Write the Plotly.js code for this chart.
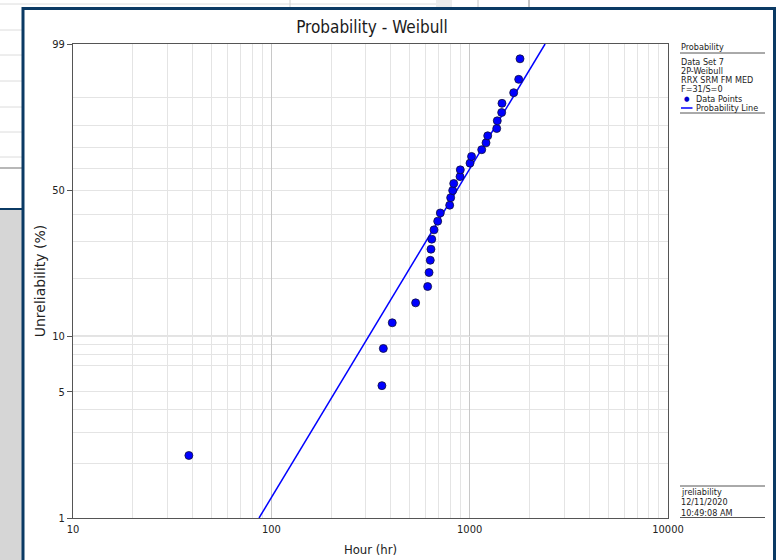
<!DOCTYPE html>
<html>
<head>
<meta charset="utf-8">
<script src="https://cdn.plot.ly/plotly-3.0.1.min.js"></script>
<style>
html,body{margin:0;padding:0;background:#ffffff;}
#chart{width:778px;height:560px;}
</style>
</head>
<body>
<div id="chart"></div>
<script>
// ---- data ----
const hours = [38.4, 361, 367, 407, 534, 614, 624, 633, 638, 644, 661, 690, 711, 793, 802, 821, 831, 894, 897, 1004, 1022, 1150, 1209, 1233, 1369, 1378, 1450, 1455, 1667, 1767, 1794];
const unreliability = [2.23, 5.41, 8.60, 11.78, 14.97, 18.15, 21.34, 24.52, 27.71, 30.89, 34.08, 37.26, 40.45, 43.63, 46.82, 50.00, 53.18, 56.37, 59.55, 62.74, 65.92, 69.11, 72.29, 75.48, 78.66, 81.85, 85.03, 88.22, 91.40, 94.59, 97.77];
const lineHours = [86.7, 2400];
const lineUnrel = [1, 99];
const yTickVals = [1, 5, 10, 50, 99];
const yTickText = ['1', '5', '10', '50', '99'];
const yMinorVals = [2, 3, 4, 7, 8, 9, 20, 30, 40, 60, 70, 80, 90];
const xTickVals = [10, 100, 1000, 10000];
const xTickText = ['10', '100', '1000', '10000'];
const xMinorVals = [20,30,40,50,60,70,80,90,200,300,400,500,600,700,800,900,2000,3000,4000,5000,6000,7000,8000,9000];
const legendLines = ['Data Set 7', '2P-Weibull', 'RRX SRM FM MED', 'F=31/S=0'];
const stampLines = ['jreliability', '12/11/2020', '10:49:08 AM'];

// Weibull probability scale
const W = p => Math.log(-Math.log(1 - p / 100));

// plot-area pixel box -> paper coordinates (for decorations only)
const PL = 73, PR = 668, PT = 44, PB = 518;
const px = x => (x - PL) / (PR - PL);
const py = y => (PB - y) / (PB - PT);

const FONT = '"DejaVu Sans Condensed", "Liberation Sans", sans-serif';
const BLUE = '#0000ff';

const traces = [
  {
    x: lineHours, y: lineUnrel.map(W), type: 'scatter', mode: 'lines',
    line: {color: BLUE, width: 1.5}, hoverinfo: 'skip', showlegend: false
  },
  {
    x: hours, y: unreliability.map(W), type: 'scatter', mode: 'markers',
    marker: {color: BLUE, size: 8, line: {color: '#10103a', width: 0.8}},
    showlegend: false
  }
];

const shapes = [];
const annotations = [];

// ---- background window decorations ----
const grayLine = (x0, y0, x1, y1, c, w) => shapes.push({type: 'line', xref: 'paper', yref: 'paper',
  x0: px(x0), y0: py(y0), x1: px(x1), y1: py(y1), line: {color: c, width: w}, layer: 'below'});
const rect = (x0, y0, x1, y1, fill) => shapes.push({type: 'rect', xref: 'paper', yref: 'paper',
  x0: px(x0), y0: py(y0), x1: px(x1), y1: py(y1), fillcolor: fill, line: {color: fill, width: 0}, layer: 'below'});

// left panel behind
[30, 55, 81, 107, 132, 157].forEach(y => grayLine(0, y, 22, y, '#dcdcdc', 1));
grayLine(0, 168, 22, 168, '#b8b8b8', 2);
rect(0, 210, 22, 560, '#d6d6d6');
grayLine(0, 209, 22, 209, '#0b3a64', 2);
// top strip behind
grayLine(0, 4, 436, 4, '#dcdcdc', 1);
rect(436, 0, 452, 7, '#ececec');
grayLine(290, 0, 290, 7, '#d0d0d0', 1);
grayLine(478, 0, 478, 7, '#c8c8c8', 1);
grayLine(529, 0, 529, 7, '#8a8a8a', 1);
// chart window frame
shapes.push({type: 'rect', xref: 'paper', yref: 'paper', x0: px(23), y0: py(8.5), x1: px(774.5), y1: py(575),
  fillcolor: 'rgba(0,0,0,0)', line: {color: '#0b3a64', width: 3}, layer: 'above'});

// dark gridline at 10 %
shapes.push({type: 'line', xref: 'paper', yref: 'y', x0: 0, x1: 1, y0: W(10), y1: W(10),
  line: {color: '#9a9a9a', width: 1}, layer: 'below'});

// ---- legend block (right side) ----
const LX = 680;
const SMALL = {family: FONT, size: 9, color: '#222'};
const note = (x, y, t, anchor, font) => annotations.push({xref: 'paper', yref: 'paper', x: px(x), y: py(y),
  xanchor: anchor || 'left', yanchor: 'middle', text: t, showarrow: false, borderpad: 0, font: font || SMALL});
note(LX, 47.5, 'Probability');
grayLine(LX, 53, 765, 53, '#555', 1);
legendLines.forEach((t, i) => note(LX, 61.5 + i * 9.3, t));
note(687, 98.7, '●', 'center', {family: FONT, size: 7, color: '#0000cc'});
note(695, 98.7, 'Data Points');
shapes.push({type: 'line', xref: 'paper', yref: 'paper', x0: px(681), x1: px(692.5), y0: py(108), y1: py(108),
  line: {color: BLUE, width: 1.5}});
note(695, 107.8, 'Probability Line');
grayLine(LX, 113, 765, 113, '#555', 1);

// ---- stamp block (bottom right) ----
grayLine(LX, 486, 765, 486, '#555', 1);
stampLines.forEach((t, i) => note(LX, 491.5 + i * 10.8, t));
grayLine(LX, 517.5, 765, 517.5, '#555', 1);

const layout = {
  width: 778, height: 560,
  margin: {l: PL, r: 778 - PR, t: PT, b: 560 - PB, pad: 0},
  paper_bgcolor: '#ffffff', plot_bgcolor: '#ffffff',
  font: {family: FONT, size: 11, color: '#222'},
  title: {text: 'Probability - Weibull', font: {family: FONT, size: 17, color: '#1a1a1a'},
    xref: 'paper', x: px(372), xanchor: 'center', yref: 'container', y: 1 - 27 / 560, yanchor: 'middle'},
  xaxis: {
    type: 'log', range: [1, 4], tickmode: 'array', tickvals: xTickVals, ticktext: xTickText,
    showgrid: true, gridcolor: '#c8c8c8', gridwidth: 1.5, zeroline: false,
    showline: true, linecolor: '#555', linewidth: 1, mirror: true, ticks: '',
    ticklabelstandoff: 1, tickfont: {family: FONT, size: 11, color: '#222'},
    minor: {tickmode: 'array', tickvals: xMinorVals, showgrid: true, gridcolor: '#e4e4e4', gridwidth: 1, ticks: ''},
    title: {text: 'Hour (hr)', font: {family: FONT, size: 13, color: '#222'}, standoff: 9}
  },
  yaxis: {
    range: [W(1), W(99)], tickmode: 'array', tickvals: yTickVals.map(W), ticktext: yTickText,
    showgrid: true, gridcolor: '#e4e4e4', gridwidth: 1, zeroline: false,
    showline: true, linecolor: '#555', linewidth: 1, mirror: true,
    ticks: 'outside', ticklen: 5, tickcolor: '#555', tickfont: {family: FONT, size: 11, color: '#222'},
    minor: {tickmode: 'array', tickvals: yMinorVals.map(W), showgrid: true, gridcolor: '#e4e4e4', gridwidth: 1, ticks: ''},
    title: {text: 'Unreliability (%)', font: {family: '"DejaVu Sans", "Liberation Sans", sans-serif', size: 14, color: '#222'}, standoff: 3}
  },
  shapes: shapes,
  annotations: annotations,
  showlegend: false
};

Plotly.newPlot('chart', traces, layout, {staticPlot: true, displayModeBar: false});
</script>
</body>
</html>
